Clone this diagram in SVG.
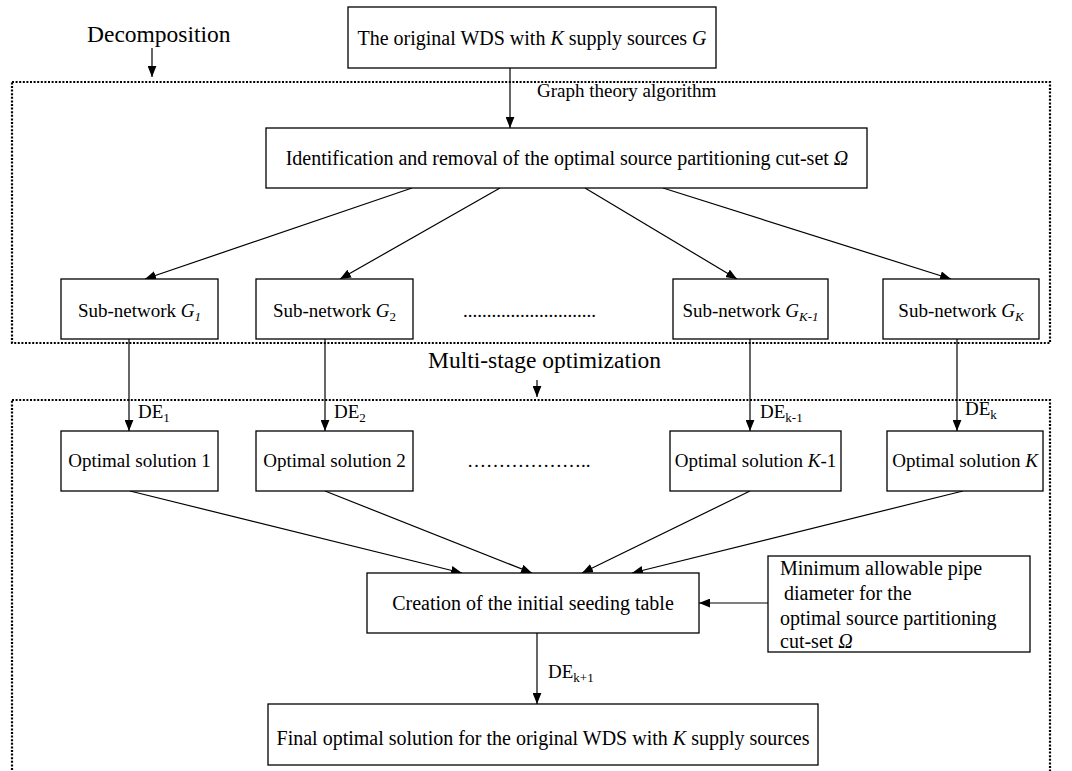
<svg xmlns="http://www.w3.org/2000/svg" width="1072" height="771" viewBox="0 0 1072 771">
<defs>
<marker id="ah" viewBox="0 0 10 8" refX="10" refY="4" markerWidth="11" markerHeight="9" markerUnits="userSpaceOnUse" orient="auto">
<path d="M0,0 L10,4 L0,8 Z" fill="#000"/>
</marker>
<style>
.box{fill:#fff;stroke:#000;stroke-width:1.3}
.dot{fill:none;stroke:#000;stroke-width:2.2;stroke-dasharray:2 1.6}
.t{font-family:"Liberation Serif","Times New Roman",serif;font-size:19px;fill:#000}
.m{font-size:20px}
.big{font-family:"Liberation Serif","Times New Roman",serif;font-size:23.5px;fill:#000}
.c{text-anchor:middle}
.i{font-style:italic}
.sub{font-size:13px}
.con{stroke:#000;stroke-width:1.2;fill:none;marker-end:url(#ah)}
</style>
</defs>
<rect width="1072" height="771" fill="#fff"/>

<g id="frames">
<rect class="dot" x="12" y="82" width="1038" height="261"/>
<rect class="dot" x="12" y="400" width="1038" height="380"/>
</g>

<g id="labels">
<text class="big" x="87" y="42">Decomposition</text>
<text class="big" x="428" y="368">Multi-stage optimization</text>
<text class="t" x="537" y="97">Graph theory algorithm</text>
<text class="t" x="463" y="317">............................</text>
<text class="t" x="467" y="467">………………..</text>
<text class="t" x="138" y="418">DE<tspan class="sub" dy="4">1</tspan></text>
<text class="t" x="334" y="418">DE<tspan class="sub" dy="4">2</tspan></text>
<text class="t" x="760" y="418">DE<tspan class="sub" dy="4">k-1</tspan></text>
<text class="t" x="965" y="415">DE<tspan class="sub" dy="4">k</tspan></text>
<text class="t" x="548" y="678">DE<tspan class="sub" dy="4">k+1</tspan></text>
</g>

<g id="connectors">
<line class="con" x1="152" y1="48" x2="152" y2="77"/>
<line class="con" x1="537" y1="380" x2="537" y2="397"/>
<line class="con" x1="510" y1="68" x2="510" y2="128"/>
<line class="con" x1="412" y1="188" x2="145" y2="279"/>
<line class="con" x1="500" y1="188" x2="340" y2="279"/>
<line class="con" x1="585" y1="188" x2="737" y2="279"/>
<line class="con" x1="663" y1="188" x2="951" y2="279"/>
<line class="con" x1="129" y1="339" x2="129" y2="431"/>
<line class="con" x1="325" y1="339" x2="325" y2="431"/>
<line class="con" x1="750" y1="339" x2="750" y2="431"/>
<line class="con" x1="957" y1="339" x2="957" y2="431"/>
<line class="con" x1="130" y1="491" x2="462" y2="573"/>
<line class="con" x1="325" y1="491" x2="532" y2="573"/>
<line class="con" x1="750" y1="491" x2="582" y2="573"/>
<line class="con" x1="963" y1="491" x2="632" y2="573"/>
<line class="con" x1="768" y1="603" x2="699" y2="603"/>
<line class="con" x1="537" y1="633" x2="537" y2="704"/>
</g>

<g id="n-original">
<rect class="box" x="348" y="7" width="368" height="61"/>
<text class="t m c" x="532" y="45">The original  WDS with <tspan class="i">K</tspan> supply  sources <tspan class="i">G</tspan></text>
</g>

<g id="n-identification">
<rect class="box" x="266" y="128" width="601" height="60"/>
<text class="t m c" x="567" y="165">Identification and removal of the optimal  source partitioning  cut-set <tspan class="i">Ω</tspan></text>
</g>

<g id="n-g1">
<rect class="box" x="61" y="279" width="157" height="60"/>
<text class="t c" x="139.5" y="317">Sub-network <tspan class="i">G<tspan class="sub" dy="4">1</tspan></tspan></text>
</g>
<g id="n-g2">
<rect class="box" x="256" y="279" width="157" height="60"/>
<text class="t c" x="334.5" y="317">Sub-network <tspan class="i">G</tspan><tspan class="sub" dy="4">2</tspan></text>
</g>
<g id="n-gk1">
<rect class="box" x="673" y="279" width="155" height="60"/>
<text class="t c" x="750.5" y="317">Sub-network <tspan class="i">G<tspan class="sub" dy="4">K-1</tspan></tspan></text>
</g>
<g id="n-gk">
<rect class="box" x="883" y="279" width="156" height="60"/>
<text class="t c" x="961" y="317">Sub-network <tspan class="i">G<tspan class="sub" dy="4">K</tspan></tspan></text>
</g>

<g id="n-opt1">
<rect class="box" x="61" y="431" width="157" height="60"/>
<text class="t c" x="139.5" y="467">Optimal solution 1</text>
</g>
<g id="n-opt2">
<rect class="box" x="256" y="431" width="157" height="60"/>
<text class="t c" x="334.5" y="467">Optimal solution 2</text>
</g>
<g id="n-optk1">
<rect class="box" x="670" y="431" width="171" height="60"/>
<text class="t c" x="755.5" y="467">Optimal solution <tspan class="i">K</tspan>-1</text>
</g>
<g id="n-optk">
<rect class="box" x="887" y="431" width="156" height="60"/>
<text class="t c" x="965" y="467">Optimal solution <tspan class="i">K</tspan></text>
</g>

<g id="n-creation">
<rect class="box" x="367" y="573" width="332" height="60"/>
<text class="t m c" x="533" y="610">Creation of the initial  seeding table</text>
</g>

<g id="n-minimum">
<rect class="box" x="768" y="556" width="262" height="96"/>
<text class="t m" x="780" y="575">Minimum allowable  pipe</text>
<text class="t m" x="784" y="600">diameter for the</text>
<text class="t m" x="780" y="625">optimal source partitioning</text>
<text class="t m" x="780" y="648">cut-set <tspan class="i">Ω</tspan></text>
</g>

<g id="n-final">
<rect class="box" x="268" y="704" width="550" height="61"/>
<text class="t m c" x="543" y="745">Final optimal solution  for the original  WDS with <tspan class="i">K</tspan> supply sources</text>
</g>
</svg>
